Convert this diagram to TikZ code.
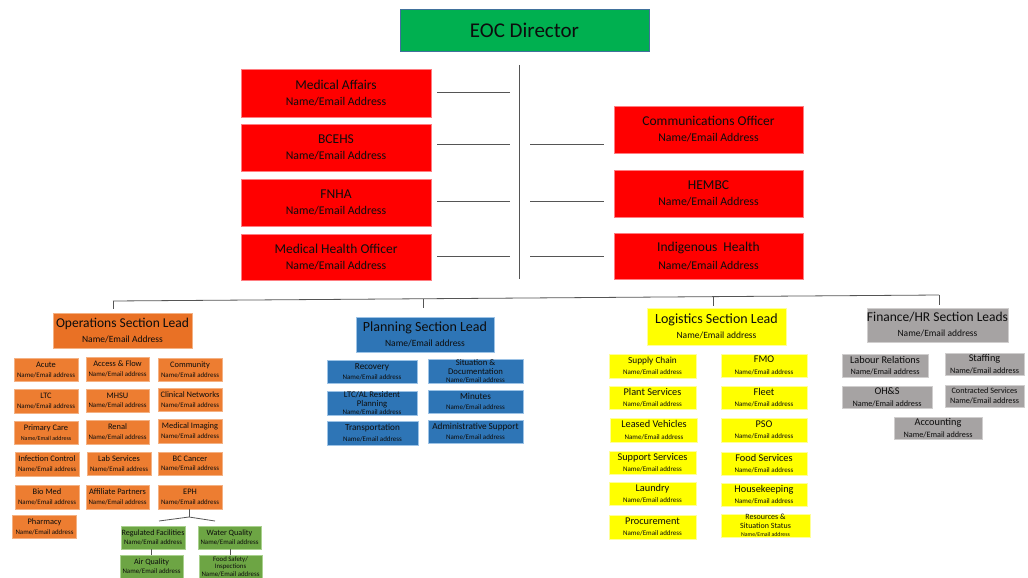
\documentclass[tikz,border=0pt]{standalone}
\usepackage{fontspec}
\setmainfont{Carlito}
\definecolor{txt}{HTML}{0D0D0D}
\definecolor{eocgreen}{HTML}{00B050}
\definecolor{eocborder}{HTML}{41719C}
\definecolor{redfill}{HTML}{FF0000}
\definecolor{redline}{HTML}{FF7C80}
\definecolor{opsdark}{HTML}{E97125}
\definecolor{opsfill}{HTML}{ED7D31}
\definecolor{opsline}{HTML}{F4B183}
\definecolor{planfill}{HTML}{2E75B6}
\definecolor{planline}{HTML}{9DC3E6}
\definecolor{yelfill}{HTML}{FFFF00}
\definecolor{yelline}{HTML}{FFFF99}
\definecolor{grayfill}{HTML}{A6A3A3}
\definecolor{grayline}{HTML}{D0CECE}
\definecolor{grnfill}{HTML}{6DA544}
\definecolor{grnline}{HTML}{A9D18E}
\definecolor{conn}{HTML}{555555}
\newcommand\redT{\fontsize{13.5}{16}\selectfont}
\newcommand\redS{\fontsize{11.8}{14}\selectfont}
\newcommand\leadT{\fontsize{13.5}{15}\selectfont}
\newcommand\leadS{\fontsize{9.5}{11}\selectfont}
\newcommand\opsT{\fontsize{8.4}{9.6}\selectfont}
\newcommand\opsS{\fontsize{6.9}{8}\selectfont}
\newcommand\planT{\fontsize{9.2}{10.4}\selectfont}
\newcommand\planS{\fontsize{7}{8}\selectfont}
\newcommand\yelT{\fontsize{10.3}{11.6}\selectfont}
\newcommand\yelS{\fontsize{7}{8.2}\selectfont}
\newcommand\grayT{\fontsize{10.3}{11.6}\selectfont}
\newcommand\grayS{\fontsize{8.2}{9.4}\selectfont}
\tikzset{
  base/.style={rectangle, inner sep=0pt, align=center, text=txt},
  eocbox/.style={base, fill=eocgreen, draw=eocborder, line width=0.9pt, minimum width=249, minimum height=42, font=\fontsize{21}{24}\selectfont},
  redbox/.style={base, fill=redfill, draw=redline, line width=0.7pt, minimum width=190, minimum height=47, font=\redT},
  opsbox/.style={base, fill=opsfill, draw=opsline, line width=0.6pt, minimum width=64, minimum height=23, font=\opsT},
  planbox/.style={base, fill=planfill, draw=planline, line width=0.6pt, minimum height=23, font=\planT},
  yelbox/.style={base, fill=yelfill, draw=yelline, line width=0.6pt, minimum height=23, font=\yelT},
  graybox/.style={base, fill=grayfill, draw=grayline, line width=0.6pt, minimum height=23, font=\grayT},
  grnbox/.style={base, fill=grnfill, draw=grnline, line width=0.6pt, minimum width=64, minimum height=23, font=\fontsize{8.1}{9.4}\selectfont},
  link/.style={draw=conn, line width=0.8pt},
  stub/.style={draw=conn, line width=0.7pt}
}
\begin{document}
\begin{tikzpicture}[x=1pt,y=-1pt]
\useasboundingbox[fill=white] (0,0) rectangle (1028,578);

% Top
\node[eocbox] (eoc) at (524.5,30) {EOC Director};

\node[redbox, minimum height=48] (ma) at (336,93) {Medical Affairs\\\redS Name/Email Address};
\node[redbox] (bcehs) at (336,147.5) {BCEHS\\\redS Name/Email Address};
\node[redbox] (fnha) at (336,202.5) {FNHA\\\redS Name/Email Address};
\node[redbox, minimum height=46] (mho) at (336,257) {Medical Health Officer\\\redS Name/Email Address};

\node[redbox, minimum width=189] (comm) at (708.5,129.5) {Communications Officer\\\redS Name/Email Address};
\node[redbox, minimum width=189] (hembc) at (708.5,193.5) {HEMBC\\\redS Name/Email Address};
\node[redbox, minimum width=189, minimum height=46] (indig) at (708.5,256) {Indigenous\ \ Health\\[2pt]\redS Name/Email Address};

% central spine and stubs
\coordinate (spT) at (519,65);
\coordinate (spB) at (519,279);
\draw[link] (spT) -- (spB);
\foreach \n/\y in {ma/92,bcehs/144,fnha/201,mho/256}{
  \draw[stub] ([xshift=6pt]\n.east |- 0,\y) -- ++(73,0);
}
\foreach \n/\y in {bcehs/144,fnha/201,mho/256}{
  \draw[stub] (530,\y) -- (604,\y);
}

% bus
\coordinate (busL) at (113,301);
\coordinate (busR) at (939,295);
\draw[link] (busL) -- (busR);

% Operations
\node[base, fill=opsdark, draw=opsline, line width=0.6pt, minimum width=139, minimum height=35, font=\leadT] (ops) at (122.5,330.5) {Operations Section Lead\\\leadS Name/Email Address};
\coordinate (opsTop) at (113,309);
\draw[link] (busL) -- (opsTop);

\node[opsbox] (acute) at (46,370) {Acute\\\opsS Name/Email address};
\node[opsbox, minimum height=24] (ltc) at (46,401) {LTC\\\opsS Name/Email address};
\node[opsbox] (pc) at (46,432.5) {Primary Care\\\fontsize{6}{7.5}\selectfont Name/Email address};
\node[opsbox, minimum height=24] (ic) at (47,464) {Infection Control\\\opsS Name/Email address};
\node[opsbox, minimum height=24] (bio) at (47,497) {Bio Med\\\opsS Name/Email address};
\node[opsbox] (pharm) at (44.5,526.5) {Pharmacy\\\opsS Name/Email address};

\node[opsbox, minimum width=63, minimum height=24] (access) at (117.5,369) {Access \& Flow\\\opsS Name/Email address};
\node[opsbox, minimum width=63] (mhsu) at (117.5,400.5) {MHSU\\\opsS Name/Email address};
\node[opsbox, minimum width=63, minimum height=24] (renal) at (117.5,432) {Renal\\\opsS Name/Email address};
\node[opsbox, minimum width=64] (lab) at (119,463.5) {Lab Services\\\opsS Name/Email address};
\node[opsbox, minimum width=63, minimum height=24] (aff) at (117.5,497) {Affiliate Partners\\\opsS Name/Email address};

\node[opsbox] (commu) at (190,369.5) {Community\\\opsS Name/Email address};
\node[opsbox] (clin) at (190,399.5) {Clinical Networks\\\opsS Name/Email address};
\node[opsbox, minimum height=24] (mi) at (190,431) {Medical Imaging\\\opsS Name/Email address};
\node[opsbox] (bcc) at (190,463.5) {BC Cancer\\\opsS Name/Email address};
\node[opsbox, minimum height=24] (eph) at (190,497) {EPH\\\opsS Name/Email address};

% EPH subtree
\node[grnbox] (reg) at (153,537.5) {Regulated Facilities\\\opsS Name/Email address};
\node[grnbox, minimum width=63] (water) at (229.5,537.5) {Water Quality\\\opsS Name/Email address};
\node[grnbox, minimum width=63] (air) at (151.5,566.5) {Air Quality\\\opsS Name/Email address};
\node[grnbox, minimum width=63, font=\fontsize{6.8}{7.6}\selectfont] (food) at (230.5,566.5) {Food Safety/\\Inspections\\\opsS Name/Email address};

\coordinate (ephJ) at (189,517);
\coordinate (ephL) at (159,521);
\coordinate (ephR) at (215,521);
\draw[link] (eph.south -| ephJ) -- (ephJ);
\draw[link] (ephL) -- (ephJ) -- (ephR);
\draw[link] (reg.south -| 151,0) -- (air.north -| 151,0);
\draw[link] (water.south -| 230,0) -- (food.north -| 230,0);

% Planning
\node[base, fill=planfill, draw=planline, line width=0.6pt, minimum width=138, minimum height=35, font=\fontsize{14}{15.5}\selectfont] (plan) at (425,334.5) {Planning Section Lead\\\leadS Name/Email address};
\coordinate (planBus) at (423,298.8);
\coordinate (planTop) at (423,308);
\draw[link] (planBus) -- (planTop);

\node[planbox, minimum width=90] (recov) at (372,371.5) {Recovery\\\planS Name/Email address};
\node[planbox, minimum width=90, minimum height=24, font=\fontsize{8.7}{9.2}\selectfont] (ltcal) at (372,403) {LTC/AL Resident\\Planning\\[-1pt]\planS Name/Email address};
\node[planbox, minimum width=91, minimum height=24] (trans) at (372.5,433) {Transportation\\\planS Name/Email address};

\node[planbox, minimum width=95, minimum height=24, font=\fontsize{8.7}{9.2}\selectfont] (sitdoc) at (475.5,371) {Situation \&\\Documentation\\[-1pt]\planS Name/Email address};
\node[planbox, minimum width=95] (minutes) at (475.5,401.5) {Minutes\\\planS Name/Email address};
\node[planbox, minimum width=95] (admin) at (475.5,431.5) {Administrative Support\\\planS Name/Email address};

% Logistics
\node[base, fill=yelfill, draw=yelline, line width=0.6pt, minimum width=139, minimum height=37, font=\fontsize{14}{15.5}\selectfont] (log) at (716.5,326.5) {Logistics Section Lead\\\leadS Name/Email address};
\coordinate (logBus) at (713,296.7);
\coordinate (logTop) at (713,306);
\draw[link] (logBus) -- (logTop);

\node[yelbox, minimum width=87, minimum height=24, font=\fontsize{9.3}{10.6}\selectfont] (supply) at (652.5,366) {Supply Chain\\\yelS Name/Email address};
\node[yelbox, minimum width=87] (plant) at (652.5,397.5) {Plant Services\\\yelS Name/Email address};
\node[yelbox, minimum width=87, minimum height=24] (leased) at (654,430) {Leased Vehicles\\\yelS Name/Email address};
\node[yelbox, minimum width=87] (support) at (652.5,462.5) {Support Services\\\yelS Name/Email address};
\node[yelbox, minimum width=87] (laundry) at (652.5,493.5) {Laundry\\\yelS Name/Email address};
\node[yelbox, minimum width=87, minimum height=24] (procure) at (652.5,527) {Procurement\\\yelS Name/Email address};

\node[yelbox, minimum width=86] (fmo) at (764,365.5) {FMO\\\yelS Name/Email address};
\node[yelbox, minimum width=86] (fleet) at (764,397.5) {Fleet\\\yelS Name/Email address};
\node[yelbox, minimum width=86, minimum height=24] (pso) at (764,430) {PSO\\\yelS Name/Email address};
\node[yelbox, minimum width=86] (foods) at (764,463.5) {Food Services\\\yelS Name/Email address};
\node[yelbox, minimum width=86] (house) at (764,494.5) {Housekeeping\\\yelS Name/Email address};
\node[yelbox, minimum width=89, font=\fontsize{8}{9}\selectfont] (resour) at (765.5,525.5) {Resources \&\\Situation Status\\[-1pt]\fontsize{5.8}{6.8}\selectfont Name/Email address};

% Finance
\node[base, fill=grayfill, draw=grayline, line width=0.6pt, minimum width=137, minimum height=34, font=\leadT] (fin) at (937.5,325) {Finance/HR Section Leads\\\leadS Name/Email address};
\coordinate (finTop) at (939,305);
\draw[link] (busR) -- (finTop);

\node[graybox, minimum width=86] (labour) at (885,365.5) {Labour Relations\\\grayS Name/Email address};
\node[graybox, minimum width=79, minimum height=22] (staff) at (984.5,364) {Staffing\\\grayS Name/Email address};
\node[graybox, minimum width=90, minimum height=22] (ohs) at (887,397) {OH\&S\\\grayS Name/Email address};
\node[graybox, minimum width=79, minimum height=22, font=\fontsize{8.2}{9.4}\selectfont] (contr) at (984.5,396) {Contracted Services\\\grayS Name/Email address};
\node[graybox, minimum width=88, minimum height=22] (acct) at (938,428) {Accounting\\\grayS Name/Email address};

\end{tikzpicture}
\end{document}
